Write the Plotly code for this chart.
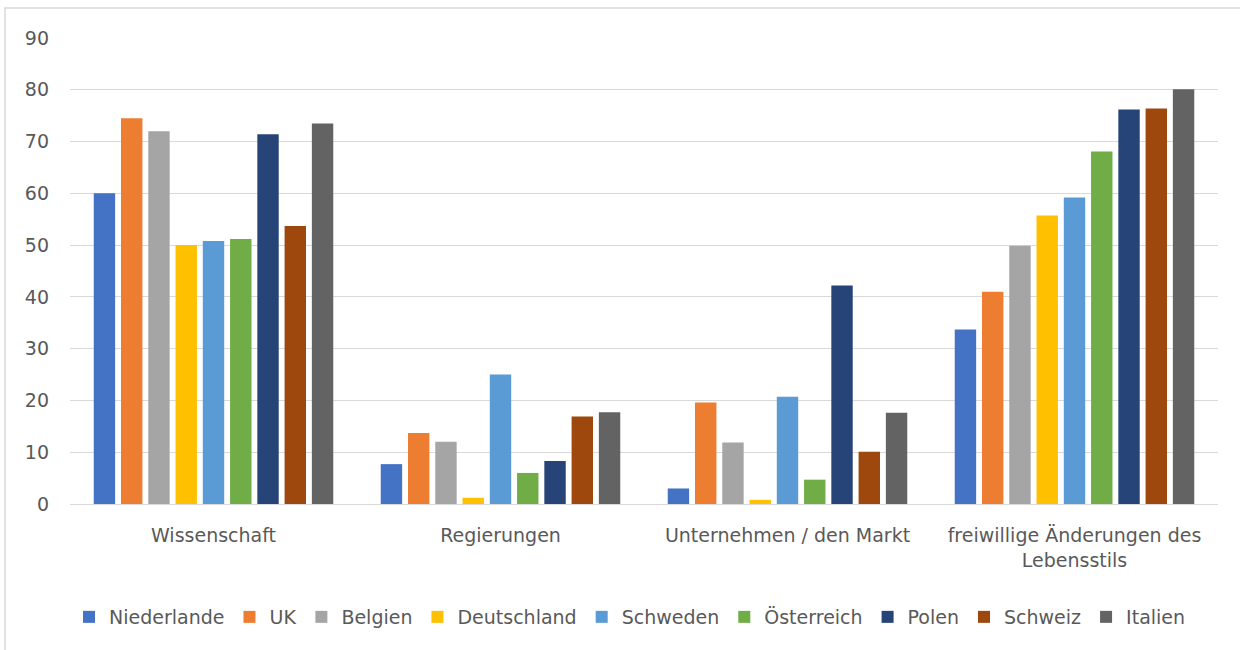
import plotly.graph_objects as go

categories = ["Wissenschaft", "Regierungen", "Unternehmen / den Markt",
              "freiwillige Änderungen des<br>Lebensstils"]
countries = ["Niederlande", "UK", "Belgien", "Deutschland", "Schweden",
             "Österreich", "Polen", "Schweiz", "Italien"]
niederlande = [60.0, 7.7, 3.0, 33.7]
uk = [74.5, 13.7, 19.6, 41.0]
belgien = [72.0, 12.0, 11.9, 49.9]
deutschland = [50.0, 1.2, 0.8, 55.7]
schweden = [50.8, 25.0, 20.7, 59.2]
oesterreich = [51.2, 6.0, 4.7, 68.1]
polen = [71.4, 8.3, 42.2, 76.2]
schweiz = [53.7, 16.9, 10.1, 76.4]
italien = [73.5, 17.7, 17.6, 80.1]
series = [niederlande, uk, belgien, deutschland, schweden, oesterreich, polen, schweiz, italien]
colors = ["#4472C4", "#ED7D31", "#A5A5A5", "#FFC000", "#5B9BD5",
          "#70AD47", "#264478", "#9E480E", "#636363"]
y_ticks = [0, 10, 20, 30, 40, 50, 60, 70, 80, 90]

FONT = "DejaVu Sans"
FS = 19
fig = go.Figure()
for name, vals, col in zip(countries, series, colors):
    fig.add_trace(go.Bar(x=categories, y=vals, name=name, marker_color=col,
                         marker_line_width=0))

fig.update_layout(
    width=1240, height=650,
    margin=dict(l=70, r=22, t=38, b=146),
    paper_bgcolor="white", plot_bgcolor="white",
    barmode="group", bargap=0.145, bargroupgap=0.215,
    font=dict(family=FONT, size=FS, color="#595959"),
    showlegend=True,
    legend=dict(orientation="h", x=(630 - 70) / 1148, xanchor="center",
                y=-0.2425, yanchor="middle",
                font=dict(family=FONT, size=FS, color="#595959"),
                itemwidth=30, tracegroupgap=0),
    xaxis=dict(showgrid=False, showline=False, ticks="", ticklabelstandoff=18,
               tickfont=dict(family=FONT, size=FS, color="#595959")),
    yaxis=dict(range=[0, 90], tickvals=y_ticks, showgrid=True, gridcolor="#D9D9D9",
               gridwidth=1, zeroline=True, zerolinecolor="#D9D9D9", zerolinewidth=1,
               showline=False, ticks="", ticklabelstandoff=20,
               tickfont=dict(family=FONT, size=FS, color="#595959")),
    shapes=[dict(type="rect", xref="paper", yref="paper",
                 x0=(5 - 70) / 1148, x1=(1260 - 70) / 1148,
                 y0=(504 - 670) / 466, y1=1 + (38 - 8) / 466,
                 line=dict(color="#D9D9D9", width=1.5), fillcolor="rgba(0,0,0,0)",
                 layer="below")],
)
fig.write_html("out.html", config={"displayModeBar": False},
               post_script="document.body.style.margin='0';")
